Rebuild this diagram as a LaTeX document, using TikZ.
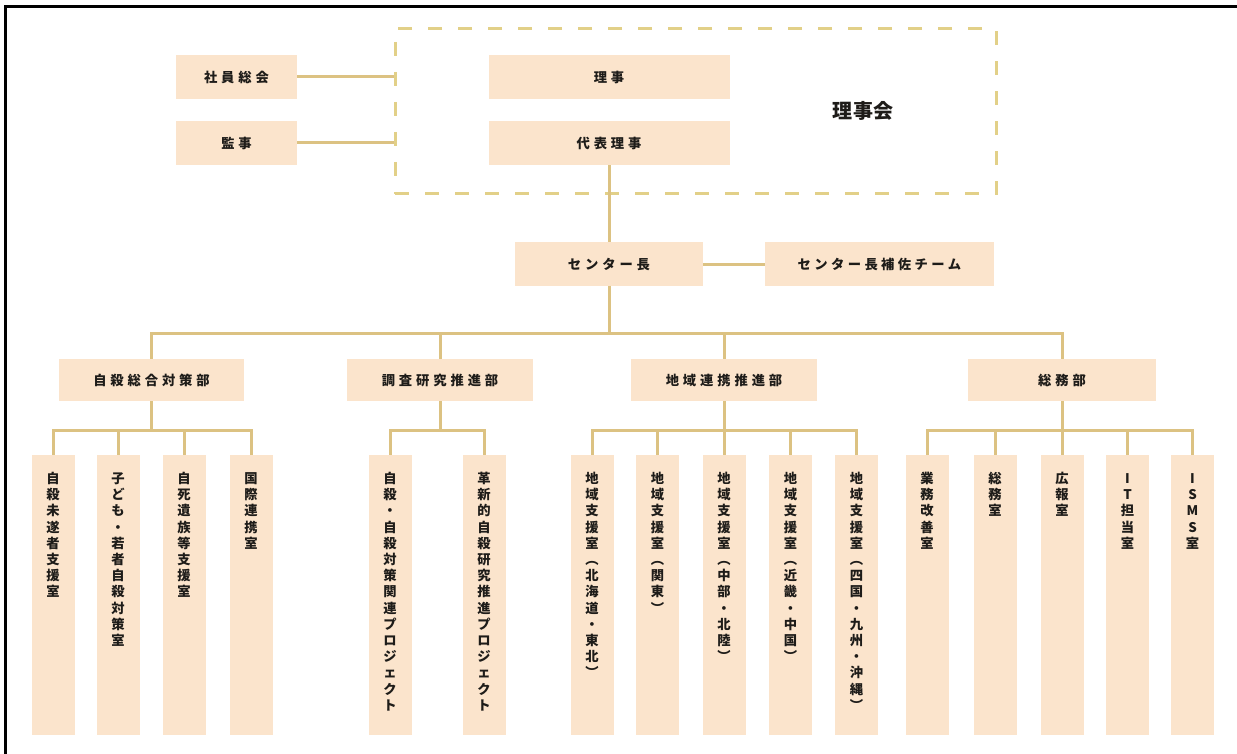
\documentclass[tikz,border=0pt]{standalone}
\usepackage{fontspec}
\newfontfamily\jp{Noto Sans CJK JP}
\definecolor{boxfill}{RGB}{251,228,204}
\definecolor{linecol}{RGB}{220,194,130}
\definecolor{dashcol}{RGB}{226,208,136}
\definecolor{txt}{RGB}{30,28,25}
\makeatletter
\newcommand\vstack[1]{\vbox{\offinterlineskip\@tfor\my@ch:=#1\do{\hbox to 16pt{\hss\vrule height 12.5pt depth 3.7pt width 0pt\my@ch\hss}}}}
\newcommand\hstack[2][17.2pt]{\hbox{\@tfor\my@ch:=#2\do{\hbox to #1{\hss\my@ch\hss}}}}
\makeatother
\newcommand\childtext[1]{\vbox to 280pt{\vskip 16pt\hbox to 43pt{\hss\vstack{#1}\hss}\vss}}
\begin{document}
\begin{tikzpicture}[x=1pt,y=-1pt,
  every node/.style={font=\jp\bfseries\fontsize{13.3}{13.3}\selectfont, text=txt},
  box/.style={fill=boxfill, inner sep=0pt, minimum height=44pt},
  dept/.style={fill=boxfill, inner sep=0pt, minimum height=42pt},
  childbox/.style={fill=boxfill, inner sep=0pt, minimum width=43pt, minimum height=280pt},
  conn/.style={draw=linecol, line width=3pt},
  dashbox/.style={draw=dashcol, line width=3pt, dash pattern=on 14pt off 16pt,
    minimum width=601pt, minimum height=165pt, inner sep=0pt}]
\useasboundingbox (0,0) rectangle (1237,754);
\fill[white] (0,0) rectangle (1237,754);
% frame
\draw[line width=3pt,black] (1237,7) -- (5,7) -- (5,754);

% board
\node[dashbox] (board) at (695.5,111.5) {};
\node (boardlabel) at (863,111) {\fontsize{20}{20}\selectfont\hstack[20.5pt]{理事会}};
\node[box, minimum width=241pt] (r1) at (609,77) {\hstack{理事}};
\node[box, minimum width=241pt] (r2) at (609,143) {\hstack{代表理事}};
\node[box, minimum width=121pt] (s1) at (236.5,77) {\hstack{社員総会}};
\node[box, minimum width=121pt] (s2) at (236.5,143) {\hstack{監事}};
\draw[conn] (s1.east) -- (s1.east -| board.west);
\draw[conn] (s2.east) -- (s2.east -| board.west);

% center head
\node[box, minimum width=188pt, minimum height=43pt] (ch) at (609,264) {\hstack{センター長}};
\node[box, minimum width=229pt, minimum height=43pt] (sup) at (879.5,264) {\hstack[16.7pt]{センター長補佐チーム}};
\draw[conn] (r2.south) -- (ch.north);
\draw[conn] (ch.east) -- (sup.west);

% departments
\node[dept, minimum width=185pt] (d1) at (151.5,380) {\hstack{自殺総合対策部}};
\node[dept, minimum width=186pt] (d2) at (440,380) {\hstack{調査研究推進部}};
\node[dept, minimum width=186pt] (d3) at (724,380) {\hstack{地域連携推進部}};
\node[dept, minimum width=188pt] (d4) at (1062,380) {\hstack{総務部}};
\draw[conn] (d1.north) -- ++(0,-25) coordinate (bus) -| (d4.north);
\draw[conn] (d2.north) -- (d2.north |- bus);
\draw[conn] (d3.north) -- (d3.north |- bus);
\draw[conn] (ch.south) -- (ch.south |- bus);

% children of d1
\node[childbox] (c11) at (53,595) {\childtext{自殺未遂者支援室}};
\node[childbox] (c12) at (118,595) {\childtext{子ども・若者自殺対策室}};
\node[childbox] (c13) at (184,595) {\childtext{自死遺族等支援室}};
\node[childbox] (c14) at (251,595) {\childtext{国際連携室}};
\draw[conn] (c11.north) -- ++(0,-24) coordinate (j1) -| (c14.north);
\draw[conn] (c12.north) -- (c12.north |- j1);
\draw[conn] (c13.north) -- (c13.north |- j1);
\draw[conn] (d1.south) -- (d1.south |- j1);

% children of d2
\node[childbox] (c21) at (390,595) {\childtext{自殺・自殺対策関連プロジェクト}};
\node[childbox] (c22) at (484,595) {\childtext{革新的自殺研究推進プロジェクト}};
\draw[conn] (c21.north) -- ++(0,-24) coordinate (j2) -| (c22.north);
\draw[conn] (d2.south) -- (d2.south |- j2);

% children of d3
\node[childbox] (c31) at (592,595) {\childtext{地域支援室︵北海道・東北︶}};
\node[childbox] (c32) at (657.5,595) {\childtext{地域支援室︵関東︶}};
\node[childbox] (c33) at (724,595) {\childtext{地域支援室︵中部・北陸︶}};
\node[childbox] (c34) at (790.5,595) {\childtext{地域支援室︵近畿・中国︶}};
\node[childbox] (c35) at (856.5,595) {\childtext{地域支援室︵四国・九州・沖縄︶}};
\draw[conn] (c31.north) -- ++(0,-24) coordinate (j3) -| (c35.north);
\draw[conn] (c32.north) -- (c32.north |- j3);
\draw[conn] (c34.north) -- (c34.north |- j3);
\draw[conn] (d3.south) -- (c33.north);

% children of d4
\node[childbox] (c41) at (927,595) {\childtext{業務改善室}};
\node[childbox] (c42) at (995,595) {\childtext{総務室}};
\node[childbox] (c43) at (1062,595) {\childtext{広報室}};
\node[childbox] (c44) at (1127.5,595) {\childtext{IT担当室}};
\node[childbox] (c45) at (1192.5,595) {\childtext{ISMS室}};
\draw[conn] (c41.north) -- ++(0,-24) coordinate (j4) -| (c45.north);
\draw[conn] (c42.north) -- (c42.north |- j4);
\draw[conn] (c44.north) -- (c44.north |- j4);
\draw[conn] (d4.south) -- (c43.north);
\end{tikzpicture}
\end{document}
